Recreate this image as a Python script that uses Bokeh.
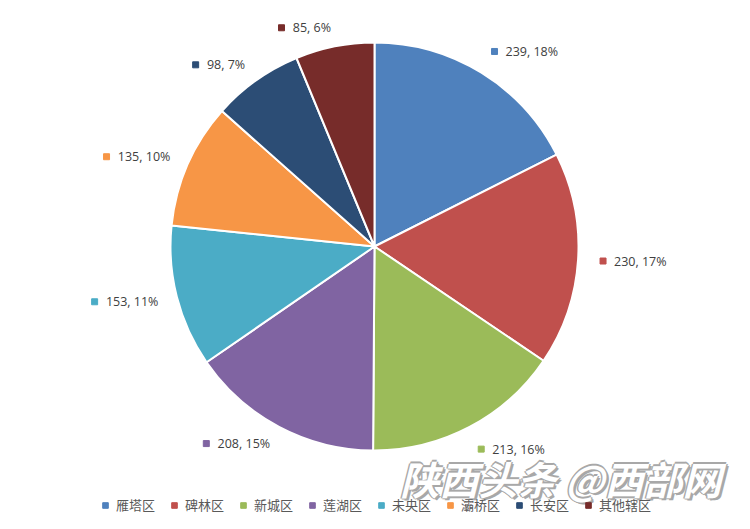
import math
from bokeh.plotting import figure
from bokeh.models import ColumnDataSource
from bokeh.core.properties import value
from bokeh.embed import file_html
from bokeh.resources import INLINE

# ---- data ----
districts = ["雁塔区", "碑林区", "新城区", "莲湖区", "未央区", "灞桥区", "长安区", "其他辖区"]
counts = [239, 230, 213, 208, 153, 135, 98, 85]
colors = ["#4F81BD", "#C0504D", "#9BBB59", "#8064A2", "#4BACC6", "#F79646", "#2C4D75", "#772C2A"]
watermark = "陕西头条 @西部网"

# ---- layout ----
W, H = 734, 513
CX, CY = 374, H - 246
R = 204

p = figure(width=W, height=H, x_range=(0, W), y_range=(0, H),
           output_backend="svg", toolbar_location=None,
           x_axis_location=None, y_axis_location=None, min_border=0)
p.grid.visible = False
p.outline_line_color = None
p.background_fill_color = "white"
p.border_fill_color = "white"

total = sum(counts)
starts, ends, mids = [], [], []
cum = 0
for c in counts:
    a0 = math.pi / 2 - 2 * math.pi * cum / total
    cum += c
    a1 = math.pi / 2 - 2 * math.pi * cum / total
    starts.append(a0)
    ends.append(a1)
    mids.append((a0 + a1) / 2)

src = ColumnDataSource(dict(start=starts, end=ends, color=colors))
p.wedge(x=CX, y=CY, radius=R, start_angle="start", end_angle="end",
        direction="clock", fill_color="color", line_color="white",
        line_width=2, source=src)

# ---- data labels ----
def est_width(s, fs=12.5):
    w = 0
    for ch in s:
        if ch.isdigit():
            w += 0.572
        elif ch in ", ":
            w += 0.26
        elif ch == "%":
            w += 0.846
        else:
            w += 0.55
    return w * fs

labels = [f"{c}, {round(c / total * 100)}%" for c in counts]
tx, ty, talign, mx, my, mc = [], [], [], [], [], []
for lab, m, col in zip(labels, mids, colors):
    if math.cos(m) >= 0:
        ax = CX + 229 * math.cos(m)
        ay = CY + 229 * math.sin(m)
        mx.append(ax)
        tx.append(ax + 11)
        talign.append("left")
    else:
        ax = CX + 223 * math.cos(m)
        ay = CY + 223 * math.sin(m)
        tx.append(ax)
        mx.append(ax - est_width(lab) - 11)
        talign.append("right")
    ty.append(ay)
    my.append(ay)
    mc.append(col)

lsrc = ColumnDataSource(dict(x=tx, y=ty, text=labels, align=talign))
p.text(x="x", y="y", text="text", text_align="align", text_baseline="middle",
       text_font=value("Open Sans"), text_font_size="12.5px", text_color="#404040",
       source=lsrc)
p.scatter(x=mx, y=my, marker="square", size=6, color=mc)

# ---- legend ----
leg_src = ColumnDataSource(dict(x=[float("nan")] * len(districts),
                                y=[float("nan")] * len(districts),
                                name=districts, color=colors))
p.scatter("x", "y", source=leg_src, marker="square", color="color",
          legend_field="name")
lg = p.legend[0]
lg.orientation = "horizontal"
lg.location = (97, -1)
lg.padding = 0
lg.margin = 0
lg.spacing = 11
lg.glyph_width = 16
lg.glyph_height = 14
lg.label_standoff = 3
lg.label_height = 14
lg.label_text_font = "Noto Sans CJK SC"
lg.label_text_font_size = "13px"
lg.label_text_color = "#595959"
lg.border_line_color = None
lg.background_fill_alpha = 0

# ---- watermark ----
wx, wy = 721, H - 477
for dx, dy in [(-1.5, 0), (1.5, 0), (0, -1.5), (0, 1.5), (2.5, 2.5)]:
    p.text(x=[wx], y=[wy], text=[watermark], x_offset=dx, y_offset=dy,
           text_align="right", text_baseline="middle",
           text_font=value("Noto Sans CJK SC"), text_font_size="39px",
           text_font_style="bold italic", text_color="#a8a8a8")
p.text(x=[wx], y=[wy], text=[watermark], text_align="right", text_baseline="middle",
       text_font=value("Noto Sans CJK SC"), text_font_size="39px",
       text_font_style="bold italic", text_color="white")

open("out.html", "w").write(file_html(p, INLINE))
